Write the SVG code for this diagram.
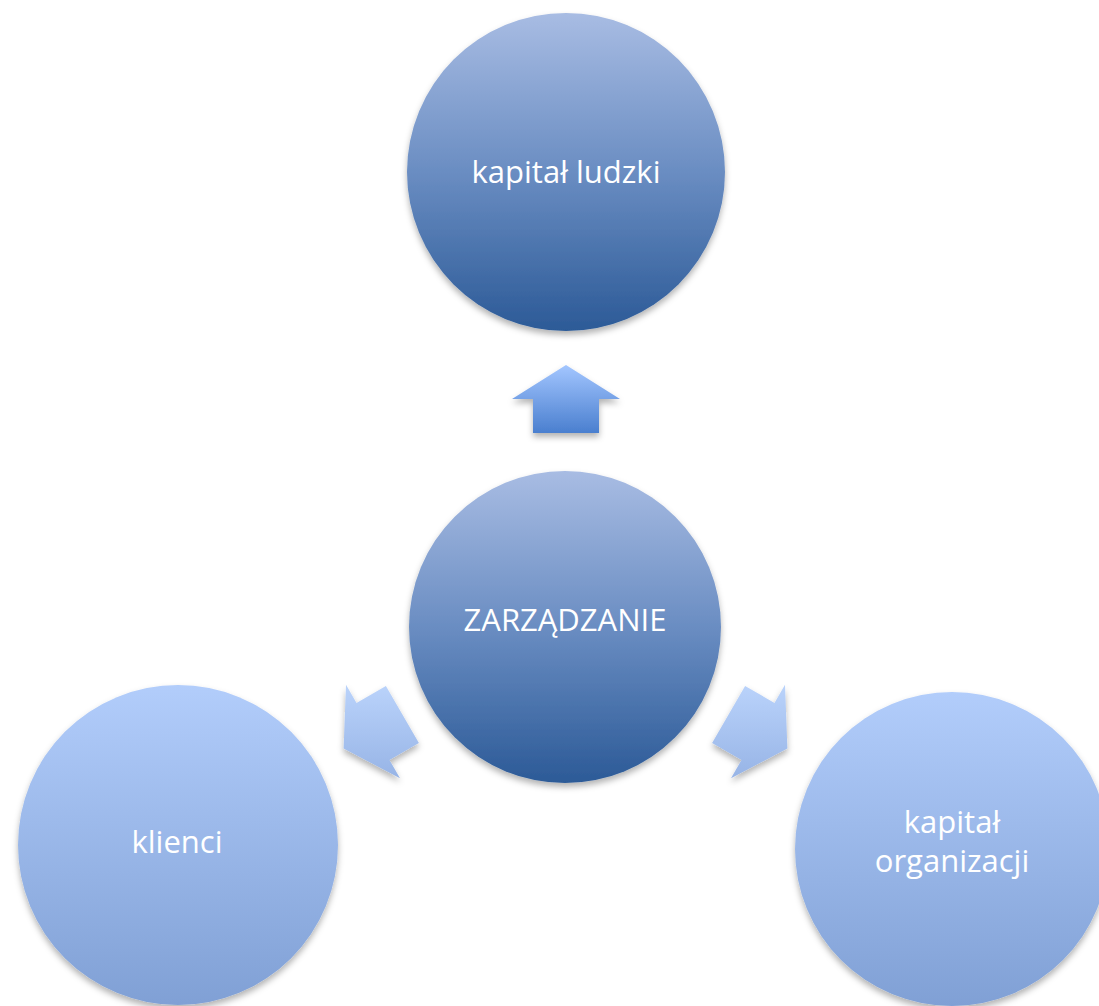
<svg xmlns="http://www.w3.org/2000/svg" width="1099" height="1006" viewBox="0 0 1099 1006">
  <defs>
    <linearGradient id="gDark" x1="0" y1="0" x2="0" y2="1">
      <stop offset="0" stop-color="#a8bce3"/>
      <stop offset="0.5" stop-color="#6a8dc2"/>
      <stop offset="1" stop-color="#2c5a97"/>
    </linearGradient>
    <linearGradient id="gLight" x1="0" y1="0" x2="0" y2="1">
      <stop offset="0" stop-color="#b2cdfb"/>
      <stop offset="1" stop-color="#80a0d5"/>
    </linearGradient>
    <linearGradient id="gArrowUp" x1="0" y1="0" x2="0" y2="1">
      <stop offset="0" stop-color="#a3c6ff"/>
      <stop offset="1" stop-color="#4a7fcf"/>
    </linearGradient>
    <linearGradient id="gArrowSide" x1="0" y1="0" x2="0" y2="1">
      <stop offset="0" stop-color="#bad3fb"/>
      <stop offset="1" stop-color="#97b4e6"/>
    </linearGradient>
    <filter id="shadow" x="-20%" y="-20%" width="140%" height="150%">
      <feDropShadow dx="0" dy="4" stdDeviation="3" flood-color="#000" flood-opacity="0.3"/>
    </filter>
  </defs>
  <style>
    .lbl { font-family: "Open Sans", "Noto Sans", sans-serif; font-size: 31px; fill: #ffffff; text-anchor: middle; }
  </style>
  <rect width="1099" height="1006" fill="#ffffff"/>

  <g id="connectors">
    <polygon id="arrow-up" points="566,365 620,399 599,399 599,433 533,433 533,399 512,399" fill="url(#gArrowUp)" filter="url(#shadow)"/>
    <polygon id="arrow-left" points="343.6,748.5 400,778.3 389.5,760.1 418.9,743.1 385.9,685.9 356.5,702.9 346,684.7" fill="url(#gArrowSide)" filter="url(#shadow)"/>
    <polygon id="arrow-right" points="787.4,748.5 731,778.3 741.5,760.1 712.1,743.1 745.1,685.9 774.5,702.9 785,684.7" fill="url(#gArrowSide)" filter="url(#shadow)"/>
  </g>

  <g id="node-kapital-ludzki">
    <circle cx="566" cy="172" r="159" fill="url(#gDark)" filter="url(#shadow)"/>
    <text class="lbl" x="566" y="183">kapitał ludzki</text>
  </g>

  <g id="node-zarzadzanie">
    <circle cx="565" cy="627" r="156" fill="url(#gDark)" filter="url(#shadow)"/>
    <text class="lbl" x="565" y="631">ZARZĄDZANIE</text>
  </g>

  <g id="node-klienci">
    <circle cx="178" cy="845" r="160" fill="url(#gLight)" filter="url(#shadow)"/>
    <text class="lbl" x="177" y="853">klienci</text>
  </g>

  <g id="node-kapital-organizacji">
    <circle cx="952" cy="849" r="157" fill="url(#gLight)" filter="url(#shadow)"/>
    <text class="lbl" x="952" y="833">kapitał</text>
    <text class="lbl" x="952" y="872">organizacji</text>
  </g>
</svg>
